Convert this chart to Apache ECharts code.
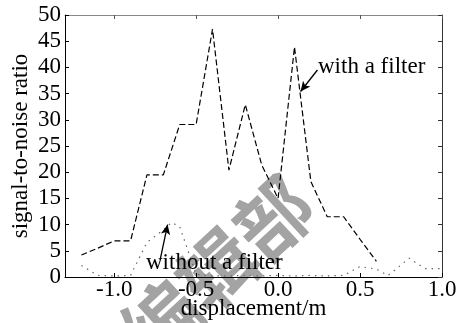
<!DOCTYPE html>
<html>
<head>
<meta charset="utf-8">
<script src="https://cdn.jsdelivr.net/npm/echarts@6/dist/echarts.min.js"></script>
<style>
html, body { margin: 0; padding: 0; background: #fff; }
#chart { width: 460px; height: 323px; }
</style>
</head>
<body>
<div id="chart"></div>
<script>
// displacement (m) / signal-to-noise ratio
var withFilterX = [-1.2, -1.1, -1.0, -0.9, -0.8, -0.7, -0.6, -0.5, -0.4, -0.3, -0.2, -0.1, 0.0, 0.1, 0.2, 0.3, 0.4, 0.5, 0.6];
var withFilterY = [4.2, 5.5, 6.9, 6.9, 19.5, 19.5, 29.1, 29.1, 47.3, 20.4, 32.9, 21.4, 15.0, 43.9, 18.2, 11.5, 11.5, 7.2, 3.0];
var withoutFilterX = [-1.2, -1.1, -1.0, -0.9, -0.8, -0.7, -0.65, -0.6, -0.5, -0.4, -0.3, -0.2, -0.1, 0.0, 0.1, 0.2, 0.3, 0.4, 0.5, 0.6, 0.67, 0.7, 0.8, 0.85, 0.9, 1.0];
var withoutFilterY = [2.2, 0.3, 0.2, 0.3, 6.6, 9.0, 10.4, 9.6, 0.5, 0.2, 0.2, 0.3, 0.2, 0.3, 0.2, 0.3, 0.2, 0.3, 2.0, 1.5, 0.3, 1.0, 3.6, 2.5, 1.6, 1.6];
var xTicks = [-1.0, -0.5, 0.0, 0.5, 1.0];

function pairs(xs, ys) {
    var out = [];
    for (var i = 0; i < xs.length; i++) {
        out.push([xs[i], ys[i]]);
    }
    return out;
}

var serif = 'Liberation Serif';
var myChart = echarts.init(document.getElementById('chart'));

var option = {
    backgroundColor: '#fff',
    animation: false,
    grid: { left: 65, right: 18, top: 15, bottom: 46, outerBoundsMode: 'none' },
    graphic: [
        {
            type: 'text',
            left: 108, top: 164,
            rotation: Math.PI / 4.2,
            originX: 100, originY: 45,
            z: 0,
            style: {
                text: '编辑部',
                font: 'bold 76px "Noto Sans CJK SC"',
                fill: '#a3a3a3'
            }
        },
        {
            type: 'text',
            left: 318, top: 55,
            z: 10,
            style: { text: 'with a filter', font: '23px "Liberation Serif"', fill: '#000' }
        },
        {
            type: 'text',
            left: 146, top: 251,
            z: 10,
            style: { text: 'without a filter', font: '23px "Liberation Serif"', fill: '#000' }
        }
    ],
    xAxis: [
        {
            type: 'value',
            min: -1.3,
            max: 1.0,
            name: 'displacement/m',
            nameLocation: 'middle',
            nameMoveOverlap: false,
            nameGap: 20,
            nameTextStyle: { fontFamily: serif, fontSize: 23, color: '#000' },
            axisLine: { onZero: false, lineStyle: { color: '#000', width: 1 } },
            axisTick: { inside: true, length: 4, customValues: xTicks, lineStyle: { color: '#000' } },
            axisLabel: {
                customValues: xTicks,
                margin: 1,
                fontFamily: serif, fontSize: 23, color: '#000',
                formatter: function (v) { return v.toFixed(1); }
            },
            splitLine: { show: false }
        },
        {
            type: 'value',
            position: 'top',
            min: -1.3,
            max: 1.0,
            axisLine: { onZero: false, lineStyle: { color: '#888', width: 1 } },
            axisTick: { inside: true, length: 4, customValues: xTicks, lineStyle: { color: '#555' } },
            axisLabel: { show: false },
            splitLine: { show: false }
        }
    ],
    yAxis: [
        {
            type: 'value',
            min: 0,
            max: 50,
            interval: 5,
            name: 'signal-to-noise ratio',
            nameLocation: 'middle',
            nameMoveOverlap: false,
            nameGap: 33,
            nameTextStyle: { fontFamily: serif, fontSize: 23, color: '#000' },
            axisLine: { show: true, onZero: false, lineStyle: { color: '#000', width: 1 } },
            axisTick: { show: true, inside: true, length: 4, lineStyle: { color: '#000' } },
            axisLabel: { margin: 4, fontFamily: serif, fontSize: 23, color: '#000' },
            splitLine: { show: false }
        },
        {
            type: 'value',
            position: 'right',
            min: 0,
            max: 50,
            interval: 5,
            axisLine: { show: true, onZero: false, lineStyle: { color: '#333', width: 1 } },
            axisTick: { show: true, inside: true, length: 4, lineStyle: { color: '#333' } },
            axisLabel: { show: false },
            splitLine: { show: false }
        }
    ],
    series: [
        {
            name: 'without a filter',
            type: 'line',
            data: pairs(withoutFilterX, withoutFilterY),
            symbol: 'none',
            z: 3,
            lineStyle: { color: '#666', width: 1.2, type: [1.5, 5] },
            markLine: {
                silent: true,
                symbol: ['none', 'arrow'],
                symbolSize: [7, 10],
                label: { show: false },
                lineStyle: { color: '#000', width: 1.3, type: 'solid' },
                data: [[{ coord: [-0.72, 3.2] }, { coord: [-0.674, 10.0] }]]
            }
        },
        {
            name: 'with a filter',
            type: 'line',
            data: pairs(withFilterX, withFilterY),
            symbol: 'none',
            z: 4,
            lineStyle: { color: '#000', width: 1.2, type: [6, 3] },
            markLine: {
                silent: true,
                symbol: ['none', 'arrow'],
                symbolSize: [7, 10],
                label: { show: false },
                lineStyle: { color: '#000', width: 1.3, type: 'solid' },
                data: [[{ coord: [0.24, 39.5] }, { coord: [0.137, 35.4] }]]
            }
        }
    ]
};
myChart.setOption(option);
</script>
</body>
</html>
